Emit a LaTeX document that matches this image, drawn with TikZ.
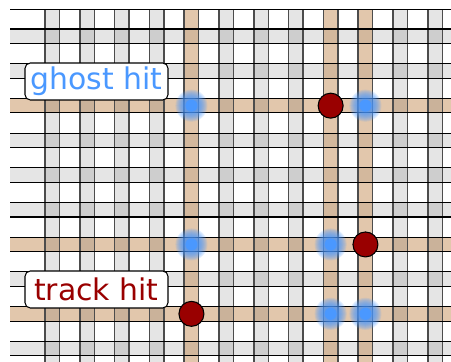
\documentclass[tikz,border=0pt]{standalone}
\usepackage{fontspec}
\setmainfont{DejaVu Sans}
\usetikzlibrary{positioning}
\definecolor{ink}{HTML}{000000}
\definecolor{tancol}{RGB}{190,130,70}
\definecolor{ghostcol}{HTML}{4A98FF}
\definecolor{trackcol}{HTML}{990000}

\begin{document}
\begin{tikzpicture}[
  x=0.02cm, y=-0.02cm, line cap=butt,
  strip/.style={fill=black, fill opacity=0.1},
  hot/.style={fill=tancol, fill opacity=0.45},
  hline/.style={ink, line width=0.6pt},
  vline/.style={ink!70, line width=0.9pt},
  hit/.style={circle, draw=ink, fill=trackcol, line width=0.6pt,
              minimum size=0.5cm, inner sep=0pt},
  tag/.style={draw=ink, fill=white, rounded corners=3pt, line width=0.6pt,
              minimum width=2.86cm, minimum height=0.74cm, inner sep=0pt,
              font=\fontsize{17}{20}\selectfont}]

\useasboundingbox (0,0) rectangle (451,362);

% ================================================================ strips
\begin{scope}
  \clip (10.2,9.3) rectangle (451,362);
  % horizontal strips
  \foreach \k in {0,1,3,4,5,7,9}
    \fill[strip] (10.2,{29+34.7*\k}) rectangle (451,{43.5+34.7*\k});
  \foreach \k in {2,6,8}
    \fill[hot] (10.2,{29+34.7*\k}) rectangle (451,{43.5+34.7*\k});
  % vertical strips
  \foreach \k in {0,1,2,3,5,6,7,10,11}
    \fill[strip] ({45+34.8*\k},9.3) rectangle ({59.5+34.8*\k},362);
  \foreach \k in {4,8,9}
    \fill[hot] ({45+34.8*\k},9.3) rectangle ({59.5+34.8*\k},362);
  % borders
  \foreach \k in {0,...,11} {
    \draw[vline] ({45+34.8*\k},9.3) -- ++(0,360);
    \draw[vline] ({59.5+34.8*\k},9.3) -- ++(0,360);
  }
  \draw[hline] (10.2,9.3) -- (451,9.3);
  \foreach \k in {0,...,9} {
    \draw[hline] (10.2,{29+34.7*\k}) -- (451,{29+34.7*\k});
    \draw[hline] (10.2,{43.5+34.7*\k}) -- (451,{43.5+34.7*\k});
  }
\end{scope}

% strip centres
\coordinate (v4) at (191.45,0);
\coordinate (v8) at (330.65,0);
\coordinate (v9) at (365.45,0);
\coordinate (h2) at (0,105.65);
\coordinate (h6) at (0,244.45);
\coordinate (h8) at (0,313.85);

% ================================================================ ghost hits
\foreach \v/\h in {v4/h2, v9/h2, v4/h6, v8/h6, v8/h8, v9/h8} {
  \foreach \r in {16,15,...,6}
    \fill[ghostcol, opacity=0.15] (\v |- \h) circle[radius=\r];
  \fill[ghostcol] (\v |- \h) circle[radius=6];
}

% ================================================================ track hits
\node[hit] (hitA) at (v8 |- h2) {};
\node[hit] (hitB) at (v9 |- h6) {};
\node[hit] (hitC) at (v4 |- h8) {};

% ================================================================ labels
\node[tag, text=ghostcol] (ghostlabel) at (96.5,81.5) {ghost hit};
\node[tag, text=trackcol] (tracklabel) at (96.5,289.5) {track hit};

\end{tikzpicture}
\end{document}
